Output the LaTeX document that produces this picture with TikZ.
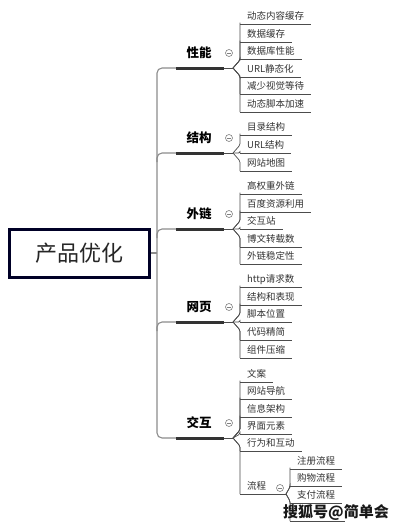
\documentclass[tikz,border=0pt]{standalone}
\usepackage{fontspec}
\setmainfont{Noto Sans CJK SC}
\usetikzlibrary{calc}
\tikzset{
  trunk/.style={draw=black!45, line width=1.1pt},
  thinl/.style={draw=black!70, line width=0.7pt},
  thickl/.style={draw=black!80, line width=3pt},
  conn/.style={draw=black!70, line width=0.7pt, rounded corners=1.5pt},
  uline/.style={draw=black!70, line width=0.7pt},
  leaf/.style={anchor=south west, inner xsep=7pt, inner ysep=2.5pt, text height=8pt, text depth=1.5pt,
    font=\fontsize{9.5}{10}\selectfont, text=black!80},
  blabel/.style={font=\bfseries\fontsize{12.5}{13}\selectfont, text=black},
  tog/.style={circle, draw=black!50, line width=0.6pt, minimum size=7pt, inner sep=0pt},
  rootbox/.style={draw=black!85!blue, line width=3pt, minimum width=140pt, minimum height=48pt,
    font=\fontsize{22}{22}\selectfont, text=black!85},
}
% leaf: name, bend coordinate, x, y, dy of connector, text
\newcommand\myleaf[6]{%
  \node[leaf] (#1) at (#3,#4) {#6};
  \draw[uline] (#1.south west) -- (#1.south east);
  \draw[conn] (#2) -- ++(#3-233+233-#3+7,#5) |- (#1.south west);
}
% branch: name, y, label
\newcommand\mybranch[3]{%
  \coordinate (#1s) at (176,#2);
  \coordinate (#1m) at (224,#2);
  \coordinate (#1e) at (233,#2);
  \draw[thickl] (#1s) -- (#1m);
  \draw[thinl] (#1m) -- (#1e);
  \node[blabel] (#1l) at (199,#2-15) {#3};
  \node[tog] (#1t) at (229,#2-15) {};
  \draw[black!50, line width=0.6pt] ($(#1t)+(-2,0)$) -- ($(#1t)+(2,0)$);
}
\begin{document}
\begin{tikzpicture}[x=1pt,y=-1pt]
\useasboundingbox (0,0) rectangle (406,528);
\fill[white] (0,0) rectangle (406,528);

% root
\node[rootbox] (root) at (79.5,253) {产品优化};
\coordinate (rj) at (157,253);
\draw[trunk] (root.east) -- (rj);

% trunk
\draw[trunk, rounded corners=5pt] (176,68) -- (157,68) -- (157,438) -- (176,438);
\draw[trunk, rounded corners=5pt] (157,162) -- (157,153) -- (176,153);
\draw[trunk, rounded corners=5pt] (157,238) -- (157,229) -- (176,229);
\draw[trunk, rounded corners=5pt] (157,331) -- (157,322) -- (176,322);

% 性能
\mybranch{a}{68}{性能}
\myleaf{a1}{ae}{240}{24}{-8}{动态内容缓存}
\myleaf{a2}{ae}{240}{42}{-8}{数据缓存}
\myleaf{a3}{ae}{240}{59}{-8}{数据库性能}
\myleaf{a4}{ae}{240}{77}{8}{URL静态化}
\myleaf{a5}{ae}{240}{94}{8}{减少视觉等待}
\myleaf{a6}{ae}{240}{112}{8}{动态脚本加速}

% 结构
\mybranch{b}{153}{结构}
\myleaf{b1}{be}{240}{135}{-8}{目录结构}
\myleaf{b2}{be}{240}{153}{0}{URL结构}
\myleaf{b3}{be}{240}{171}{8}{网站地图}

% 外链
\mybranch{c}{229}{外链}
\myleaf{c1}{ce}{240}{194}{-8}{高权重外链}
\myleaf{c2}{ce}{240}{212}{-8}{百度资源利用}
\myleaf{c3}{ce}{240}{229}{0}{交互站}
\myleaf{c4}{ce}{240}{247}{8}{博文转载数}
\myleaf{c5}{ce}{240}{264}{8}{外链稳定性}

% 网页
\mybranch{d}{322}{网页}
\myleaf{d1}{de}{240}{287}{-8}{http请求数}
\myleaf{d2}{de}{240}{305}{-8}{结构和表现}
\myleaf{d3}{de}{240}{322}{0}{脚本位置}
\myleaf{d4}{de}{240}{340}{8}{代码精简}
\myleaf{d5}{de}{240}{358}{8}{组件压缩}

% 交互
\mybranch{e}{438}{交互}
\myleaf{e1}{ee}{240}{382}{-8}{文案}
\myleaf{e2}{ee}{240}{399}{-8}{网站导航}
\myleaf{e3}{ee}{240}{417}{-8}{信息架构}
\myleaf{e4}{ee}{240}{434}{-4}{界面元素}
\myleaf{e5}{ee}{240}{451}{8}{行为和互动}

% 流程
\node[leaf] (f) at (240,494) {流程};
\coordinate (fe) at (286,494);
\draw[uline] (f.south west) -- (fe);
\draw[conn] (ee) -- ++(7,8) |- (f.south west);
\node[tog] (ft) at (280,488) {};
\draw[black!50, line width=0.6pt] ($(ft)+(-2,0)$) -- ($(ft)+(2,0)$);

\node[leaf] (f1) at (290,469) {注册流程};
\draw[uline] (f1.south west) -- (f1.south east);
\draw[conn] (fe) -- ++(4,-7) |- (f1.south west);
\node[leaf] (f2) at (290,486) {购物流程};
\draw[uline] (f2.south west) -- (f2.south east);
\draw[conn] (fe) -- ++(4,-7) |- (f2.south west);
\node[leaf] (f3) at (290,503) {支付流程};
\draw[uline] (f3.south west) -- (f3.south east);
\draw[conn] (fe) -- ++(4,7) |- (f3.south west);
\coordinate (f4) at (290,521);
\coordinate (f4e) at (345,521);
\draw[uline] (f4) -- (f4e);
\draw[conn] (fe) -- ++(4,7) |- (f4);

% watermark
\node[font=\bfseries\fontsize{15}{15}\selectfont, text=black!90] (wm) at (336,512) {搜狐号@简单会};
\end{tikzpicture}
\end{document}
